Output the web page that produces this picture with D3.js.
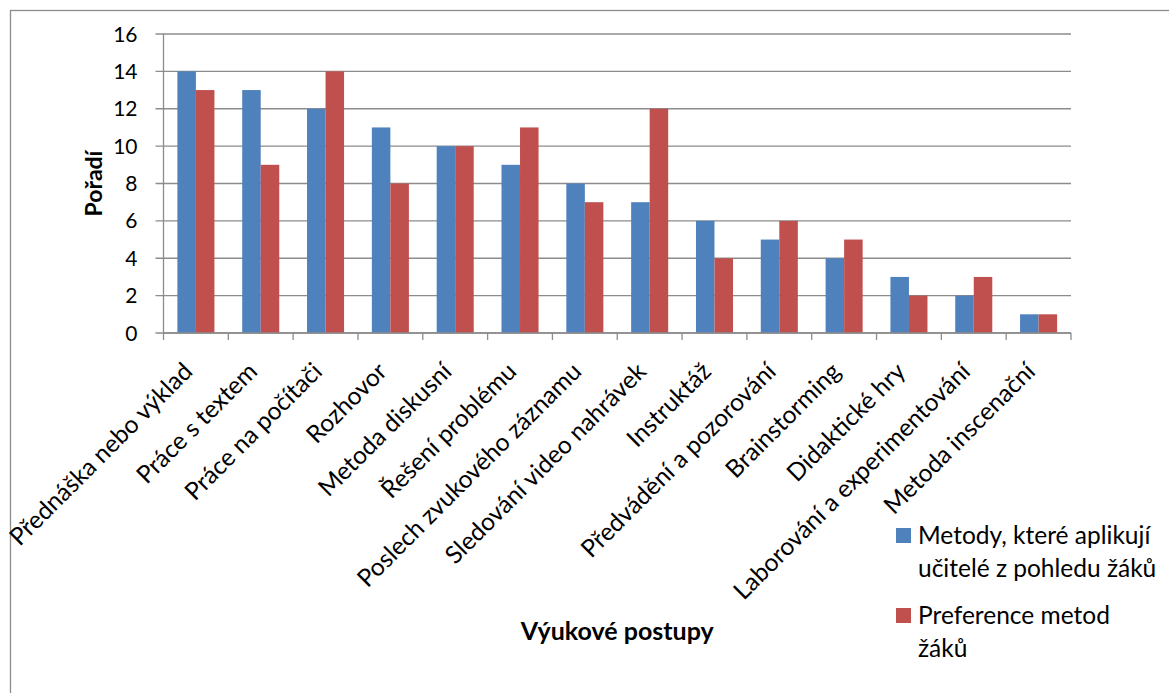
<!DOCTYPE html>
<meta charset="utf-8">

<style>
body { margin: 0; background: #fff; }
.axis text, .legend text { font-family: Lato, "Open Sans", sans-serif; fill: #000; }
.title text { font-family: Lato, "Open Sans", sans-serif; font-weight: bold; fill: #000; }
</style>

<svg class="chart"></svg>

<script src="https://d3js.org/d3.v7.min.js"></script>
<script>

  var categories = [
    "Přednáška nebo výklad",
    "Práce s textem",
    "Práce na počítači",
    "Rozhovor",
    "Metoda diskusní",
    "Řešení problému",
    "Poslech zvukového záznamu",
    "Sledování video nahrávek",
    "Instruktáž",
    "Předvádění a pozorování",
    "Brainstorming",
    "Didaktické hry",
    "Laborování a experimentování",
    "Metoda inscenační"
  ];

  var teacherMethods = [14, 13, 12, 11, 10, 9, 8, 7, 6, 5, 4, 3, 2, 1];
  var studentPreference = [13, 9, 14, 8, 10, 11, 7, 12, 4, 6, 5, 2, 3, 1];

  var seriesNames = [
    ["Metody, které aplikují", "učitelé z pohledu žáků"],
    ["Preference metod", "žáků"]
  ];
  var seriesColors = ["#4f81bd", "#c0504d"];

  var yTicks = [0, 2, 4, 6, 8, 10, 12, 14, 16];

  var outerWidth  = 1169;
  var outerHeight = 693;

  var plot = { left: 163.5, right: 1071, top: 34, bottom: 333 };

  var xScale = d3.scaleBand()
      .domain(categories)
      .range([plot.left, plot.right]);

  var seriesScale = d3.scaleBand()
      .domain([0, 1])
      .range([0, xScale.bandwidth()])
      .paddingOuter(0.75);

  var yScale = d3.scaleLinear()
      .domain([0, 16])
      .range([plot.bottom, plot.top]);

  var chart = d3.select(".chart")
      .attr("width", outerWidth)
      .attr("height", outerHeight);

  // outer frame
  chart.append("rect")
      .attr("x", 10.5)
      .attr("y", 10.5)
      .attr("width", 1300)
      .attr("height", 800)
      .attr("fill", "none")
      .attr("stroke", "#8c8c8c")
      .attr("stroke-width", 1.3);

  // gridlines + y ticks
  chart.append("g")
      .attr("class", "grid")
    .selectAll("line")
      .data(yTicks)
    .enter().append("line")
      .attr("x1", plot.left - 8)
      .attr("x2", plot.right)
      .attr("y1", function(d) { return yScale(d); })
      .attr("y2", function(d) { return yScale(d); })
      .attr("stroke", "#8c8c8c")
      .attr("stroke-width", 1.3);

  var yAxis = chart.append("g")
      .attr("class", "y axis");

  yAxis.selectAll("text")
      .data(yTicks)
    .enter().append("text")
      .style("font-size", "21px")
      .attr("x", plot.left - 26)
      .attr("y", function(d) { return yScale(d); })
      .attr("dy", "0.36em")
      .attr("text-anchor", "end")
      .text(function(d) { return d; });

  // bars
  var data = categories.map(function(c, i) {
    return { cat: c, values: [teacherMethods[i], studentPreference[i]] };
  });

  chart.append("g")
      .attr("class", "bars")
    .selectAll("g")
      .data(data)
    .enter().append("g")
      .attr("transform", function(d) { return "translate(" + xScale(d.cat) + ",0)"; })
    .selectAll("rect")
      .data(function(d) { return d.values.map(function(v, k) { return { k: k, v: v }; }); })
    .enter().append("rect")
      .attr("x", function(d) { return seriesScale(d.k); })
      .attr("width", seriesScale.bandwidth())
      .attr("y", function(d) { return yScale(d.v); })
      .attr("height", function(d) { return yScale(0) - yScale(d.v); })
      .attr("fill", function(d) { return seriesColors[d.k]; });

  // axes lines
  chart.append("line")
      .attr("x1", plot.left).attr("x2", plot.left)
      .attr("y1", plot.top).attr("y2", plot.bottom)
      .attr("stroke", "#8c8c8c")
      .attr("stroke-width", 1.3);

  chart.append("line")
      .attr("x1", plot.left).attr("x2", plot.right)
      .attr("y1", plot.bottom).attr("y2", plot.bottom)
      .attr("stroke", "#8c8c8c")
      .attr("stroke-width", 1.3);

  var boundaries = categories.map(function(c) { return xScale(c); }).concat([plot.right]);

  chart.append("g")
      .selectAll("line")
      .data(boundaries)
    .enter().append("line")
      .attr("x1", function(d) { return d; })
      .attr("x2", function(d) { return d; })
      .attr("y1", plot.bottom)
      .attr("y2", plot.bottom + 7)
      .attr("stroke", "#8c8c8c")
      .attr("stroke-width", 1.3);

  // x labels, rotated
  var xAxis = chart.append("g")
      .attr("class", "x axis");

  xAxis.selectAll("text")
      .data(categories)
    .enter().append("text")
      .style("font-size", "24.5px")
      .attr("text-anchor", "end")
      .attr("transform", function(d) {
        var cx = xScale(d) + xScale.bandwidth() / 2;
        return "translate(" + (cx - 2) + "," + (plot.bottom + 40) + ") rotate(-45)";
      })
      .text(function(d) { return d; });

  // titles
  var titles = chart.append("g")
      .attr("class", "title");

  titles.append("text")
      .attr("transform", "translate(102," + ((plot.top + plot.bottom) / 2) + ") rotate(-90)")
      .attr("text-anchor", "middle")
      .style("font-size", "23px")
      .text("Pořadí");

  titles.append("text")
      .attr("x", (plot.left + plot.right) / 2)
      .attr("y", 640)
      .attr("text-anchor", "middle")
      .style("font-size", "25px")
      .text("Výukové postupy");

  // legend
  var legend = chart.append("g")
      .attr("class", "legend")
      .selectAll("g")
      .data(seriesNames)
    .enter().append("g")
      .attr("transform", function(d, i) { return "translate(896," + (528 + i * 80) + ")"; });

  legend.append("rect")
      .attr("width", 15)
      .attr("height", 15)
      .attr("fill", function(d, i) { return seriesColors[i]; });

  legend.append("text")
      .style("font-size", "24.5px")
      .attr("x", 22)
      .attr("y", 16)
      .selectAll("tspan")
      .data(function(d) { return d; })
    .enter().append("tspan")
      .attr("x", 22)
      .attr("dy", function(d, j) { return j === 0 ? 0 : 33; })
      .text(function(d) { return d; });

</script>
